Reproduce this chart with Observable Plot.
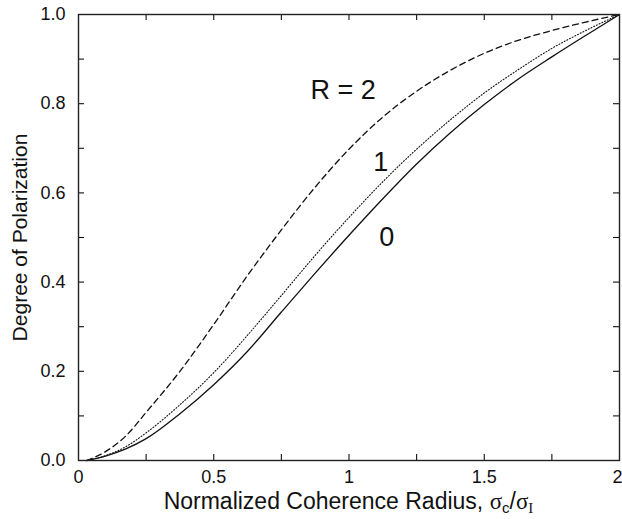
<!DOCTYPE html>
<html>
<head>
<meta charset="utf-8">
<script src="https://cdn.jsdelivr.net/npm/d3@7"></script>
<script src="https://cdn.jsdelivr.net/npm/@observablehq/plot@0.6"></script>
<style>
  html, body { margin: 0; padding: 0; background: #fff; }
  #chart svg { display: block; }
</style>
</head>
<body>
<div id="chart"></div>
<script>
// ---- data ----
const xs = [0.03, 0.1, 0.175, 0.25, 0.375, 0.5, 0.625, 0.75, 0.875, 1, 1.125, 1.25, 1.375, 1.5, 1.625, 1.75, 1.875, 2];
const r0 = [0, 0.01, 0.026, 0.049, 0.105, 0.17, 0.245, 0.333, 0.42, 0.505, 0.587, 0.665, 0.735, 0.798, 0.855, 0.905, 0.953, 1];
const r1 = [0, 0.011, 0.031, 0.062, 0.125, 0.197, 0.281, 0.37, 0.46, 0.545, 0.625, 0.698, 0.764, 0.824, 0.876, 0.924, 0.964, 1];
const r2 = [0, 0.02, 0.055, 0.108, 0.2, 0.305, 0.415, 0.517, 0.613, 0.698, 0.77, 0.828, 0.875, 0.913, 0.942, 0.964, 0.983, 1];

const seriesNames = ["0", "1", "2"];
const seriesValues = [r0, r1, r2];
const seriesDash = ["none", "1,2", "6,4"];

const labelTexts = ["R = 2", "1", "0"];
const labelX = [0.978, 1.117, 1.14];
const labelY = [0.83, 0.669, 0.50];

const xTickLabels = [0, 0.5, 1, 1.5];
const xTickLabelLast = [2];
const xTicks = [0.25, 0.5, 0.75, 1, 1.25, 1.5, 1.75];
const yTickLabels = [0, 0.2, 0.4, 0.6, 0.8, 1];
const yTicks = [0.1, 0.2, 0.3, 0.4, 0.5, 0.6, 0.7, 0.8, 0.9];

const xTitle = "Normalized Coherence Radius, ";
const yTitle = "Degree of Polarization";

// ---- build ----
const W = 622, H = 519;
const mL = 78, mR = 3, mT = 14, mB = 59;
const plotW = W - mL - mR, plotH = H - mT - mB;
const TL = 6;                       // tick length in px
const xDom = [0, 2], yDom = [0, 1];
const tx = TL / plotW * (xDom[1] - xDom[0]);   // tick length in x data units
const ty = TL / plotH * (yDom[1] - yDom[0]);   // tick length in y data units
const font = "'Liberation Sans', Arial, Helvetica, sans-serif";
const serif = "'Liberation Serif', 'DejaVu Serif', serif";

const rows = [];
seriesValues.forEach((vals, si) => vals.forEach((v, i) => rows.push({x: xs[i], y: v, s: seriesNames[si]})));
const labels = labelTexts.map((t, i) => ({t, x: labelX[i], y: labelY[i]}));

const lineMarks = seriesNames.map((name, si) =>
  Plot.line(rows.filter(d => d.s === name), {
    x: "x", y: "y", stroke: "#111", strokeWidth: si === 1 ? 1.1 : 1.3,
    strokeDasharray: seriesDash[si], curve: "monotone-x"
  })
);

const tickStyle = {stroke: "#111", strokeWidth: 1.1};

const chart = Plot.plot({
  width: W, height: H,
  marginLeft: mL, marginRight: mR, marginTop: mT, marginBottom: mB,
  style: {fontFamily: font, background: "#fff", overflow: "visible"},
  x: {domain: xDom},
  y: {domain: yDom},
  marks: [
    Plot.axisX(xTickLabels, {tickSize: 0, tickPadding: 10, fontSize: 18, fill: "#111",
      tickFormat: d => String(d), label: null}),
    Plot.axisX(xTickLabelLast, {tickSize: 0, tickPadding: 10, fontSize: 18, fill: "#111", dx: -2,
      tickFormat: d => String(d), label: null}),
    Plot.axisY(yTickLabels, {tickSize: 0, tickPadding: 13, fontSize: 18, fill: "#111",
      tickFormat: d3.format(".1f"), label: null}),
    Plot.ruleX(xTicks, {x: d => d, y1: yDom[0], y2: yDom[0] + ty, ...tickStyle}),
    Plot.ruleX(xTicks, {x: d => d, y1: yDom[1] - ty, y2: yDom[1], ...tickStyle}),
    Plot.ruleY(yTicks, {y: d => d, x1: xDom[0], x2: xDom[0] + tx, ...tickStyle}),
    Plot.ruleY(yTicks, {y: d => d, x1: xDom[1] - tx, x2: xDom[1], ...tickStyle}),
    ...lineMarks,
    Plot.text(labels, {x: "x", y: "y", text: "t", fontSize: 27, fill: "#111", fontFamily: font}),
    Plot.text([yTitle], {text: d => d, frameAnchor: "left", textAnchor: "middle", rotate: -90, dx: -58,
      fontSize: 21, fill: "#111", fontFamily: font}),
    Plot.frame({stroke: "#222", strokeWidth: 1.4})
  ]
});

// x-axis title with sub-scripts
const svg = d3.select(chart);
const t = svg.append("text")
  .attr("x", mL + plotW / 2)
  .attr("y", H - 10)
  .attr("text-anchor", "middle")
  .attr("font-family", font)
  .attr("font-size", 23)
  .attr("fill", "#111");
t.append("tspan").text(xTitle);
t.append("tspan").attr("font-family", serif).text("σ");
t.append("tspan").attr("font-size", 15).attr("dy", 4).text("c");
t.append("tspan").attr("dy", -4).text("/");
t.append("tspan").attr("font-family", serif).text("σ");
t.append("tspan").attr("font-size", 15).attr("dy", 4).attr("font-family", serif).text("I");

document.getElementById("chart").appendChild(chart);
</script>
</body>
</html>
